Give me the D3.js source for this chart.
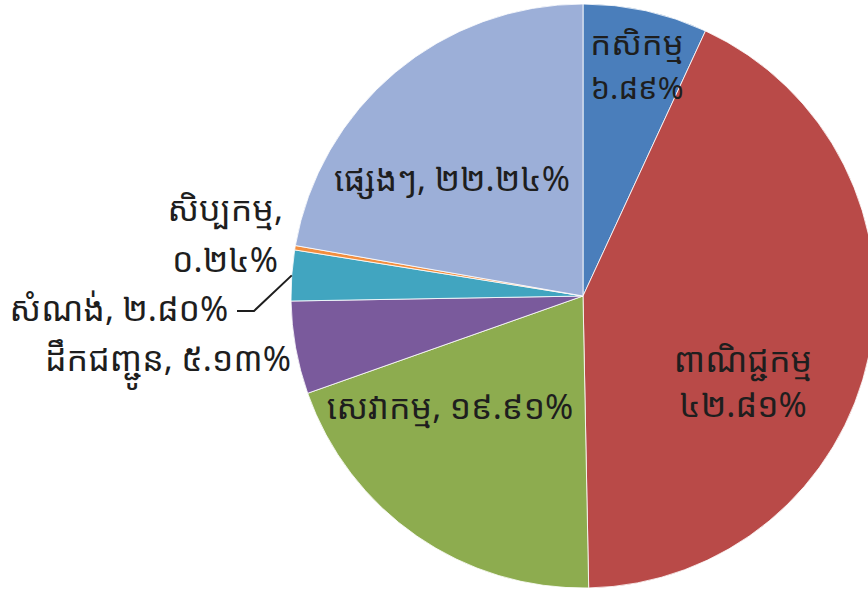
<!DOCTYPE html>
<html><head><meta charset="utf-8">
<script src="https://cdn.jsdelivr.net/npm/d3@7"></script>
<style>html,body{margin:0;padding:0;background:#fff;}svg{display:block;}</style>
</head><body>
<svg id="chart" width="868" height="591"></svg>
<script>
const categories = ["កសិកម្ម","ពាណិជ្ជកម្ម","សេវាកម្ម","ដឹកជញ្ជូន","សំណង់","សិប្បកម្ម","ផ្សេងៗ"];
const values = [6.89, 42.81, 19.91, 5.13, 2.80, 0.24, 22.24];
const valueLabels = ["៦.៨៩%","៤២.៨១%","១៩.៩១%","៥.១៣%","២.៨០%","០.២៤%","២២.២៤%"];
const colors = ["#4a7ebb","#b94a48","#8dac4f","#7a5a9c","#41a5c0","#f28e3e","#9cafd8"];

const svg = d3.select("#chart");
const cx = 583, cy = 296, r = 292;
const g = svg.append("g").attr("transform", `translate(${cx},${cy})`);
const pie = d3.pie().sort(null).value(d => d)(values);
const arc = d3.arc().innerRadius(0).outerRadius(r);
g.selectAll("path").data(pie).join("path")
  .attr("d", arc).attr("fill", (d,i) => colors[i])
  .attr("stroke", "#fff").attr("stroke-width", 0.8);

const font = "'Noto Sans Khmer','Khmer OS','Noto Sans','DejaVu Sans',sans-serif";
const labels = [
  {lines:[categories[0], valueLabels[0]], x:637, y:[55,99], fs:[33,31]},
  {lines:[categories[1], valueLabels[1]], x:743, y:[372,417], fs:[34,34]},
  {lines:[categories[2]+", "+valueLabels[2]], x:450, y:[419], fs:[34]},
  {lines:[categories[3]+", "+valueLabels[3]], x:168, y:[371], fs:[34]},
  {lines:[categories[4]+", "+valueLabels[4]], x:119, y:[321], fs:[34]},
  {lines:[categories[5]+",", valueLabels[5]], x:225, y:[221,272], fs:[34,34]},
  {lines:[categories[6]+", "+valueLabels[6]], x:452, y:[191], fs:[34]}
];
labels.forEach(l => {
  l.lines.forEach((t,j) => {
    svg.append("text").attr("x", l.x).attr("y", l.y[j])
      .attr("text-anchor", "middle").attr("font-family", font)
      .attr("font-size", l.fs[j]).attr("fill", "#1e1e1e").text(t);
  });
});
// leader line for សំណង់
const mid = pie[4];
const a = (mid.startAngle + mid.endAngle)/2;
const px = cx + Math.sin(a)*r, py = cy - Math.cos(a)*r;
svg.append("polyline").attr("points", `237,311 254,311 ${px},${py}`)
  .attr("fill","none").attr("stroke","#1e1e1e").attr("stroke-width",2);
</script>
</body></html>
